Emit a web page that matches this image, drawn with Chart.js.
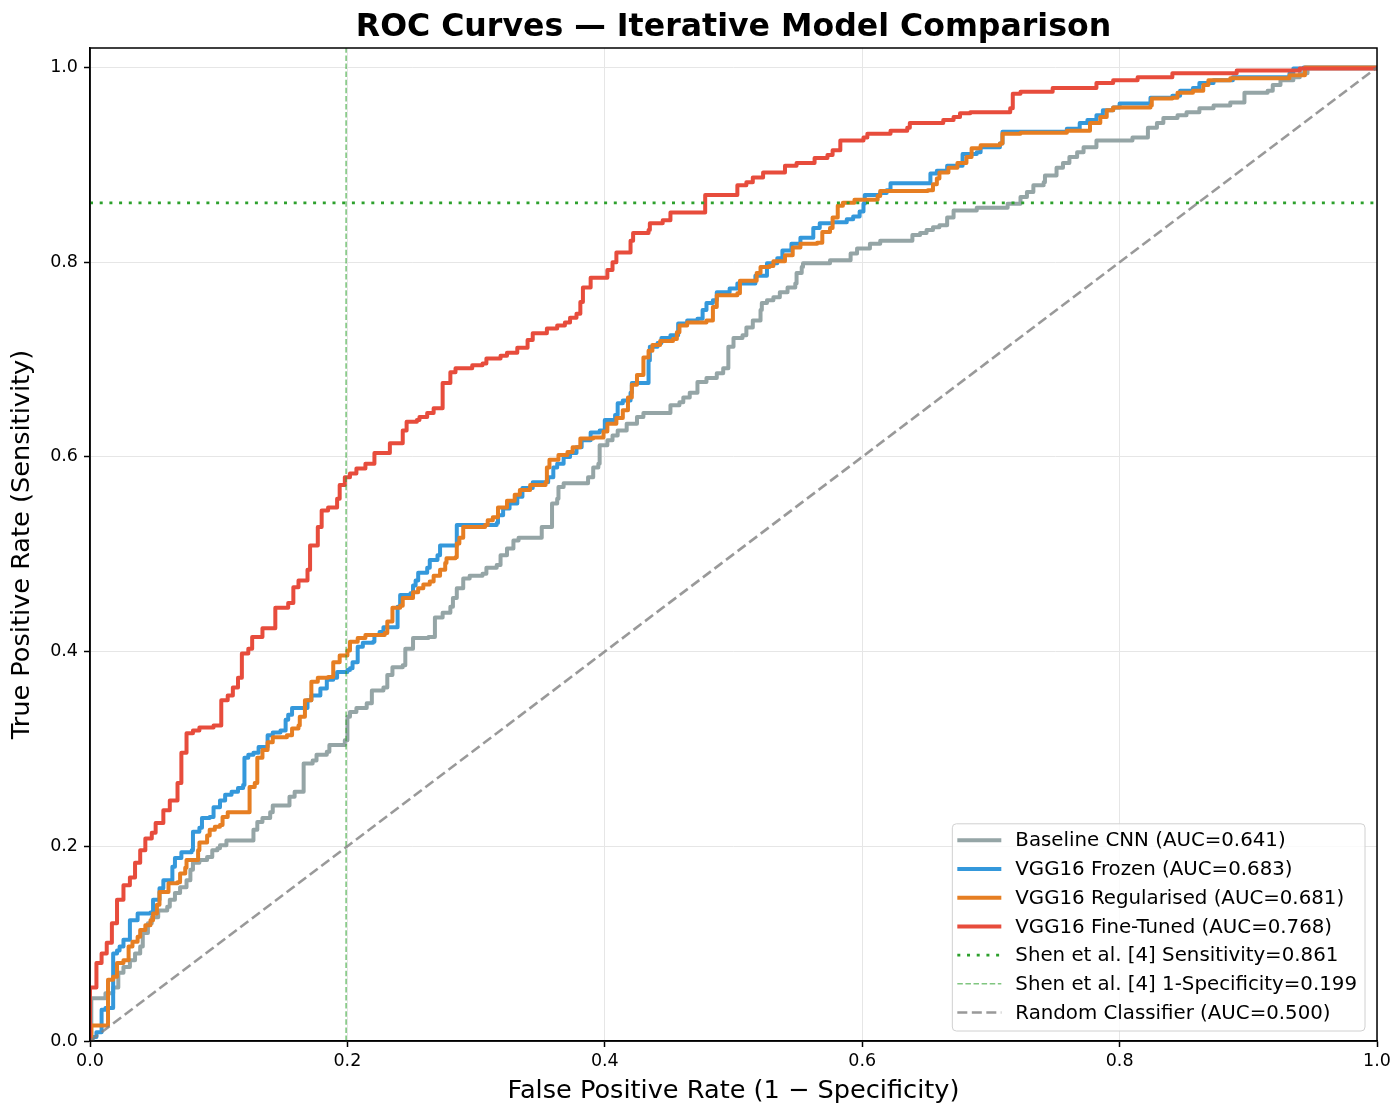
<!DOCTYPE html>
<html>
<head>
<meta charset="utf-8">
<script src="https://cdn.jsdelivr.net/npm/chart.js@4.4.1/dist/chart.umd.min.js"></script>
<style>
html,body{margin:0;padding:0;background:#ffffff;}
#wrap{width:1400px;height:1117px;position:relative;}
</style>
</head>
<body>
<div id="wrap"><canvas id="c" width="1400" height="1117"></canvas></div>
<script>
// ---------- text ----------
const chartTitle = 'ROC Curves — Iterative Model Comparison';
const xAxisLabel = 'False Positive Rate (1 − Specificity)';
const yAxisLabel = 'True Positive Rate (Sensitivity)';

// ---------- series names ----------
const seriesLabels = [
  'Baseline CNN (AUC=0.641)',
  'VGG16 Frozen (AUC=0.683)',
  'VGG16 Regularised (AUC=0.681)',
  'VGG16 Fine-Tuned (AUC=0.768)',
  'Shen et al. [4] Sensitivity=0.861',
  'Shen et al. [4] 1-Specificity=0.199',
  'Random Classifier (AUC=0.500)'
];

// ---------- reference values ----------
const shenSensitivity = 0.861;
const shenOneMinusSpecificity = 0.199;
const randomLine = [[0, 0], [1, 1]];

// ---------- ROC curves: [FPR, TPR] at each step corner ----------
const baselineRoc = [
  [0,0],[0.001,0.044],[0.012,0.049],[0.018,0.055],[0.022,0.070],[0.026,0.076],[0.031,0.083],[0.035,0.090],[0.039,0.097],[0.041,0.111],
  [0.045,0.121],[0.048,0.127],[0.053,0.134],[0.060,0.138],[0.062,0.145],[0.066,0.152],[0.070,0.158],[0.075,0.165],[0.078,0.176],[0.080,0.183],
  [0.085,0.186],[0.091,0.189],[0.095,0.196],[0.099,0.198],[0.101,0.201],[0.106,0.206],[0.127,0.217],[0.130,0.225],[0.134,0.229],[0.140,0.235],
  [0.142,0.242],[0.155,0.251],[0.159,0.256],[0.166,0.285],[0.173,0.288],[0.176,0.294],[0.184,0.297],[0.186,0.304],[0.198,0.309],[0.200,0.333],
  [0.202,0.338],[0.207,0.342],[0.215,0.347],[0.219,0.360],[0.228,0.363],[0.231,0.376],[0.235,0.384],[0.243,0.386],[0.245,0.403],[0.251,0.414],
  [0.263,0.415],[0.268,0.435],[0.274,0.440],[0.280,0.446],[0.282,0.455],[0.285,0.465],[0.290,0.475],[0.295,0.478],[0.305,0.480],[0.308,0.486],
  [0.316,0.489],[0.319,0.499],[0.324,0.506],[0.329,0.514],[0.333,0.517],[0.351,0.528],[0.359,0.552],[0.363,0.557],[0.364,0.569],[0.368,0.573],
  [0.387,0.579],[0.391,0.589],[0.395,0.593],[0.396,0.612],[0.402,0.617],[0.406,0.622],[0.410,0.627],[0.417,0.634],[0.425,0.641],[0.430,0.645],
  [0.451,0.653],[0.458,0.656],[0.461,0.661],[0.466,0.666],[0.472,0.677],[0.479,0.681],[0.487,0.686],[0.492,0.691],[0.496,0.713],[0.500,0.722],
  [0.507,0.725],[0.510,0.733],[0.515,0.740],[0.521,0.751],[0.522,0.758],[0.526,0.761],[0.531,0.764],[0.536,0.769],[0.542,0.774],[0.548,0.778],
  [0.549,0.789],[0.553,0.795],[0.554,0.799],[0.575,0.802],[0.591,0.809],[0.596,0.814],[0.606,0.819],[0.614,0.822],[0.639,0.828],[0.645,0.830],
  [0.650,0.833],[0.655,0.836],[0.660,0.838],[0.666,0.846],[0.671,0.853],[0.689,0.856],[0.713,0.860],[0.723,0.867],[0.728,0.872],[0.733,0.879],
  [0.741,0.882],[0.742,0.889],[0.751,0.897],[0.756,0.902],[0.761,0.908],[0.767,0.913],[0.772,0.918],[0.782,0.925],[0.810,0.928],[0.822,0.938],
  [0.829,0.943],[0.834,0.948],[0.845,0.951],[0.852,0.954],[0.862,0.958],[0.873,0.961],[0.886,0.964],[0.897,0.974],[0.915,0.976],[0.919,0.982],
  [0.925,0.987],[0.935,0.990],[0.940,0.994],[0.946,0.999],[1.0,1.0]
];

const frozenRoc = [
  [0,0],[0.002,0.004],[0.005,0.009],[0.009,0.032],[0.012,0.034],[0.018,0.090],[0.021,0.093],[0.023,0.097],[0.026,0.104],[0.031,0.124],
  [0.037,0.131],[0.047,0.132],[0.049,0.145],[0.054,0.157],[0.057,0.165],[0.064,0.168],[0.064,0.179],[0.066,0.188],[0.071,0.194],[0.079,0.196],
  [0.080,0.215],[0.085,0.219],[0.087,0.229],[0.093,0.230],[0.096,0.240],[0.101,0.247],[0.105,0.253],[0.110,0.256],[0.115,0.260],[0.119,0.263],
  [0.120,0.291],[0.123,0.294],[0.127,0.296],[0.131,0.302],[0.138,0.314],[0.142,0.317],[0.148,0.319],[0.152,0.330],[0.154,0.335],[0.157,0.342],
  [0.169,0.350],[0.172,0.355],[0.179,0.362],[0.184,0.371],[0.189,0.373],[0.192,0.379],[0.200,0.381],[0.202,0.383],[0.204,0.389],[0.208,0.405],
  [0.212,0.409],[0.220,0.410],[0.221,0.417],[0.225,0.420],[0.228,0.425],[0.239,0.432],[0.239,0.446],[0.241,0.458],[0.249,0.460],[0.251,0.468],
  [0.253,0.473],[0.255,0.481],[0.262,0.486],[0.264,0.494],[0.270,0.499],[0.272,0.509],[0.285,0.530],[0.316,0.532],[0.317,0.540],[0.321,0.547],
  [0.326,0.552],[0.332,0.559],[0.336,0.568],[0.344,0.574],[0.356,0.579],[0.360,0.589],[0.363,0.593],[0.368,0.600],[0.373,0.604],[0.378,0.610],
  [0.382,0.617],[0.389,0.625],[0.396,0.627],[0.400,0.638],[0.408,0.643],[0.410,0.655],[0.414,0.658],[0.420,0.666],[0.421,0.676],[0.434,0.699],
  [0.435,0.713],[0.441,0.717],[0.444,0.722],[0.451,0.725],[0.457,0.737],[0.464,0.740],[0.472,0.742],[0.476,0.751],[0.479,0.758],[0.484,0.761],
  [0.487,0.769],[0.497,0.773],[0.503,0.778],[0.517,0.786],[0.526,0.799],[0.534,0.804],[0.538,0.812],[0.545,0.819],[0.552,0.825],[0.562,0.835],
  [0.567,0.840],[0.577,0.841],[0.588,0.844],[0.593,0.847],[0.598,0.852],[0.601,0.860],[0.602,0.869],[0.614,0.871],[0.619,0.874],[0.622,0.881],
  [0.653,0.891],[0.658,0.894],[0.666,0.899],[0.678,0.911],[0.689,0.913],[0.692,0.918],[0.707,0.922],[0.709,0.934],[0.759,0.937],[0.769,0.943],
  [0.775,0.946],[0.782,0.951],[0.787,0.956],[0.795,0.959],[0.800,0.963],[0.824,0.969],[0.841,0.971],[0.847,0.976],[0.857,0.979],[0.862,0.984],
  [0.873,0.987],[0.888,0.990],[0.932,0.994],[0.935,0.999],[0.943,1.0],[1.0,1.0]
];

const regularisedRoc = [
  [0,0],[0.001,0.016],[0.014,0.018],[0.014,0.063],[0.018,0.066],[0.021,0.080],[0.026,0.083],[0.030,0.097],[0.033,0.102],[0.037,0.107],
  [0.039,0.114],[0.043,0.119],[0.047,0.124],[0.049,0.131],[0.052,0.140],[0.054,0.153],[0.061,0.162],[0.068,0.163],[0.070,0.172],[0.074,0.178],
  [0.075,0.186],[0.084,0.196],[0.085,0.204],[0.091,0.211],[0.093,0.217],[0.097,0.220],[0.101,0.222],[0.103,0.230],[0.107,0.235],[0.124,0.261],
  [0.128,0.265],[0.130,0.291],[0.134,0.299],[0.138,0.307],[0.142,0.312],[0.153,0.314],[0.157,0.321],[0.162,0.324],[0.163,0.333],[0.167,0.350],
  [0.172,0.369],[0.177,0.373],[0.185,0.374],[0.189,0.389],[0.194,0.396],[0.200,0.401],[0.202,0.410],[0.208,0.414],[0.214,0.417],[0.229,0.419],
  [0.231,0.431],[0.235,0.445],[0.241,0.447],[0.243,0.455],[0.251,0.461],[0.255,0.465],[0.259,0.469],[0.264,0.472],[0.267,0.478],[0.272,0.484],
  [0.276,0.491],[0.277,0.496],[0.284,0.497],[0.285,0.511],[0.287,0.517],[0.290,0.528],[0.307,0.530],[0.309,0.535],[0.313,0.538],[0.317,0.548],
  [0.324,0.555],[0.330,0.561],[0.334,0.566],[0.342,0.571],[0.354,0.574],[0.355,0.589],[0.357,0.597],[0.364,0.602],[0.371,0.605],[0.375,0.610],
  [0.381,0.619],[0.391,0.620],[0.399,0.626],[0.402,0.634],[0.409,0.640],[0.414,0.648],[0.418,0.661],[0.421,0.674],[0.425,0.684],[0.430,0.702],
  [0.434,0.709],[0.437,0.715],[0.443,0.719],[0.453,0.721],[0.456,0.728],[0.458,0.735],[0.464,0.738],[0.479,0.740],[0.484,0.754],[0.487,0.766],
  [0.503,0.768],[0.505,0.781],[0.518,0.789],[0.521,0.795],[0.528,0.796],[0.531,0.801],[0.540,0.807],[0.546,0.815],[0.552,0.819],[0.565,0.820],
  [0.569,0.831],[0.575,0.835],[0.577,0.846],[0.581,0.858],[0.585,0.861],[0.594,0.864],[0.612,0.868],[0.614,0.873],[0.651,0.874],[0.655,0.880],
  [0.658,0.886],[0.660,0.892],[0.667,0.897],[0.674,0.902],[0.681,0.908],[0.685,0.917],[0.692,0.920],[0.707,0.922],[0.709,0.932],[0.723,0.933],
  [0.759,0.935],[0.777,0.943],[0.785,0.949],[0.790,0.956],[0.795,0.959],[0.824,0.961],[0.825,0.968],[0.841,0.969],[0.845,0.974],[0.857,0.976],
  [0.865,0.982],[0.869,0.987],[0.886,0.989],[0.932,0.992],[0.944,1.0],[1.0,1.0]
];

const fineTunedRoc = [
  [0,0],[0,0.055],[0.005,0.080],[0.009,0.090],[0.013,0.101],[0.017,0.121],[0.021,0.145],[0.026,0.160],[0.031,0.168],[0.035,0.183],
  [0.039,0.196],[0.043,0.208],[0.048,0.214],[0.051,0.224],[0.057,0.237],[0.062,0.247],[0.068,0.265],[0.071,0.296],[0.075,0.316],[0.080,0.319],
  [0.085,0.322],[0.096,0.324],[0.102,0.350],[0.107,0.355],[0.111,0.363],[0.115,0.373],[0.118,0.398],[0.123,0.403],[0.126,0.415],[0.134,0.424],
  [0.144,0.445],[0.154,0.450],[0.158,0.466],[0.162,0.473],[0.169,0.484],[0.171,0.509],[0.177,0.528],[0.180,0.545],[0.185,0.548],[0.192,0.557],
  [0.194,0.571],[0.198,0.579],[0.202,0.583],[0.207,0.588],[0.214,0.593],[0.221,0.604],[0.233,0.614],[0.243,0.627],[0.246,0.636],[0.254,0.638],
  [0.256,0.641],[0.262,0.645],[0.267,0.650],[0.274,0.676],[0.280,0.687],[0.284,0.691],[0.297,0.694],[0.305,0.696],[0.308,0.701],[0.319,0.704],
  [0.324,0.707],[0.332,0.712],[0.340,0.720],[0.344,0.727],[0.355,0.732],[0.363,0.735],[0.369,0.738],[0.373,0.743],[0.378,0.747],[0.381,0.759],
  [0.383,0.774],[0.389,0.784],[0.402,0.792],[0.406,0.800],[0.409,0.810],[0.420,0.822],[0.422,0.830],[0.434,0.833],[0.435,0.840],[0.445,0.843],
  [0.451,0.851],[0.478,0.869],[0.503,0.879],[0.510,0.882],[0.515,0.887],[0.523,0.892],[0.540,0.899],[0.549,0.902],[0.563,0.907],[0.573,0.910],
  [0.577,0.915],[0.583,0.925],[0.601,0.928],[0.604,0.932],[0.622,0.935],[0.635,0.938],[0.637,0.943],[0.663,0.946],[0.671,0.949],[0.676,0.953],
  [0.684,0.954],[0.715,0.958],[0.717,0.973],[0.723,0.975],[0.748,0.979],[0.782,0.984],[0.795,0.987],[0.814,0.990],[0.841,0.994],[0.891,0.997],
  [0.940,0.999],[1.0,1.0]
];

// ---------- axis ticks ----------
const xTickValues = [0.0, 0.2, 0.4, 0.6, 0.8, 1.0];
const yTickValues = [0.0, 0.2, 0.4, 0.6, 0.8, 1.0];

// ---------- styles ----------
const FONT = "'DejaVu Sans', 'Liberation Sans', sans-serif";
const colors = {
  baseline: '#95a5a6',
  frozen: '#3498db',
  regularised: '#e67e22',
  fineTuned: '#e74c3c',
  shenSens: '#2ca02c',
  shenSpec: 'rgba(44,160,44,0.6)',
  random: 'rgba(128,128,128,0.8)'
};

const toXY = arr => arr.map(([x, y]) => ({x, y}));

const curveBase = {
  borderWidth: 4,
  pointRadius: 0,
  pointHoverRadius: 0,
  fill: false,
  stepped: 'before',
  borderJoinStyle: 'round',
  borderCapStyle: 'butt',
  tension: 0
};

const datasets = [
  Object.assign({}, curveBase, {label: seriesLabels[0], data: toXY(baselineRoc), borderColor: colors.baseline, order: 6}),
  Object.assign({}, curveBase, {label: seriesLabels[1], data: toXY(frozenRoc), borderColor: colors.frozen, order: 5}),
  Object.assign({}, curveBase, {label: seriesLabels[2], data: toXY(regularisedRoc), borderColor: colors.regularised, order: 4}),
  Object.assign({}, curveBase, {label: seriesLabels[3], data: toXY(fineTunedRoc), borderColor: colors.fineTuned, order: 3}),
  {label: seriesLabels[4], data: [{x: 0, y: shenSensitivity}, {x: 1, y: shenSensitivity}],
   borderColor: colors.shenSens, borderWidth: 2.8, borderDash: [3, 6.7], pointRadius: 0, fill: false, order: 2},
  {label: seriesLabels[5], data: [{x: shenOneMinusSpecificity, y: 0}, {x: shenOneMinusSpecificity, y: 1.02}],
   borderColor: colors.shenSpec, borderWidth: 1.6, borderDash: [5.5, 2.6], pointRadius: 0, fill: false, order: 1},
  {label: seriesLabels[6], data: toXY(randomLine),
   borderColor: colors.random, borderWidth: 2.6, borderDash: [10, 4.5], pointRadius: 0, fill: false, order: 0}
];

// ---------- plugins ----------
const titlePlugin = {
  id: 'plotTitle',
  afterDraw(chart) {
    const {ctx, chartArea} = chart;
    ctx.save();
    ctx.font = "bold 31.6px " + FONT;
    ctx.fillStyle = '#000';
    ctx.textAlign = 'center';
    ctx.textBaseline = 'alphabetic';
    ctx.fillText(chartTitle, (chartArea.left + chartArea.right) / 2, chartArea.top - 12);
    ctx.restore();
  }
};

const framePlugin = {
  id: 'frame',
  afterDatasetsDraw(chart) {
    const {ctx, chartArea: a} = chart;
    ctx.save();
    ctx.strokeStyle = '#000';
    ctx.lineWidth = 1.5;
    ctx.strokeRect(a.left, a.top, a.right - a.left, a.bottom - a.top);
    ctx.restore();
  }
};

const legendPlugin = {
  id: 'insideLegend',
  afterDraw(chart) {
    const {ctx, chartArea: a} = chart;
    const ds = chart.data.datasets;
    ctx.save();
    ctx.font = "19.8px " + FONT;
    let maxW = 0;
    ds.forEach(d => { maxW = Math.max(maxW, ctx.measureText(d.label).width); });
    const rowH = 28.7;
    const padTop = 16.5;
    const boxH = padTop + rowH * (ds.length - 1) + 18.5;
    const handleStart = 5, handleLen = 44, textOff = 63, padRight = 8;
    const boxW = textOff + maxW + padRight;
    const right = a.right - 12;
    const bottom = a.bottom - 10;
    const left = right - boxW;
    const top = bottom - boxH;
    const r = 4;
    ctx.beginPath();
    ctx.moveTo(left + r, top);
    ctx.lineTo(right - r, top);
    ctx.quadraticCurveTo(right, top, right, top + r);
    ctx.lineTo(right, bottom - r);
    ctx.quadraticCurveTo(right, bottom, right - r, bottom);
    ctx.lineTo(left + r, bottom);
    ctx.quadraticCurveTo(left, bottom, left, bottom - r);
    ctx.lineTo(left, top + r);
    ctx.quadraticCurveTo(left, top, left + r, top);
    ctx.closePath();
    ctx.fillStyle = 'rgba(255,255,255,0.8)';
    ctx.fill();
    ctx.strokeStyle = '#d0d0d0';
    ctx.lineWidth = 1;
    ctx.stroke();
    ds.forEach((d, i) => {
      const y = top + padTop + i * rowH;
      ctx.save();
      ctx.beginPath();
      ctx.strokeStyle = d.borderColor;
      ctx.lineWidth = d.borderWidth;
      ctx.setLineDash(d.borderDash || []);
      ctx.lineCap = 'butt';
      ctx.moveTo(left + handleStart, y);
      ctx.lineTo(left + handleStart + handleLen, y);
      ctx.stroke();
      ctx.restore();
      ctx.fillStyle = '#000';
      ctx.textAlign = 'left';
      ctx.textBaseline = 'middle';
      ctx.fillText(d.label, left + textOff, y + 1);
    });
    ctx.restore();
  }
};

// ---------- chart ----------
const tickFont = {family: FONT, size: 17.5};
const titleFont = {family: FONT, size: 25.6};

new Chart(document.getElementById('c'), {
  type: 'line',
  data: {datasets},
  options: {
    responsive: false,
    animation: false,
    devicePixelRatio: 1,
    parsing: true,
    layout: {padding: {left: 0, right: 23, top: 48, bottom: 0}},
    plugins: {
      legend: {display: false},
      tooltip: {enabled: false},
      title: {display: false}
    },
    scales: {
      x: {
        type: 'linear',
        min: 0,
        max: 1,
        afterBuildTicks(scale) { scale.ticks = xTickValues.map(v => ({value: v})); },
        afterFit(scale) { scale.height = 76; },
        ticks: {
          color: '#000',
          font: tickFont,
          padding: 4,
          autoSkip: false,
          maxRotation: 0,
          callback: v => Number(v).toFixed(1)
        },
        grid: {color: '#e6e6e6', lineWidth: 1, drawTicks: true, tickLength: 6, tickColor: '#000', tickWidth: 1.5},
        border: {display: true, color: '#000', width: 1.5},
        title: {display: true, text: xAxisLabel, color: '#000', font: titleFont, padding: {top: 0, bottom: 10}}
      },
      y: {
        type: 'linear',
        min: 0,
        max: 1.02,
        afterBuildTicks(scale) { scale.ticks = yTickValues.map(v => ({value: v})); },
        afterFit(scale) { scale.width = 90; },
        ticks: {
          color: '#000',
          font: tickFont,
          padding: 6,
          autoSkip: false,
          callback: v => Number(v).toFixed(1)
        },
        grid: {color: '#e6e6e6', lineWidth: 1, drawTicks: true, tickLength: 6, tickColor: '#000', tickWidth: 1.5},
        border: {display: true, color: '#000', width: 1.5},
        title: {display: true, text: yAxisLabel, color: '#000', font: titleFont, padding: {top: 7, bottom: 0}}
      }
    }
  },
  plugins: [titlePlugin, framePlugin, legendPlugin]
});
</script>
</body>
</html>
